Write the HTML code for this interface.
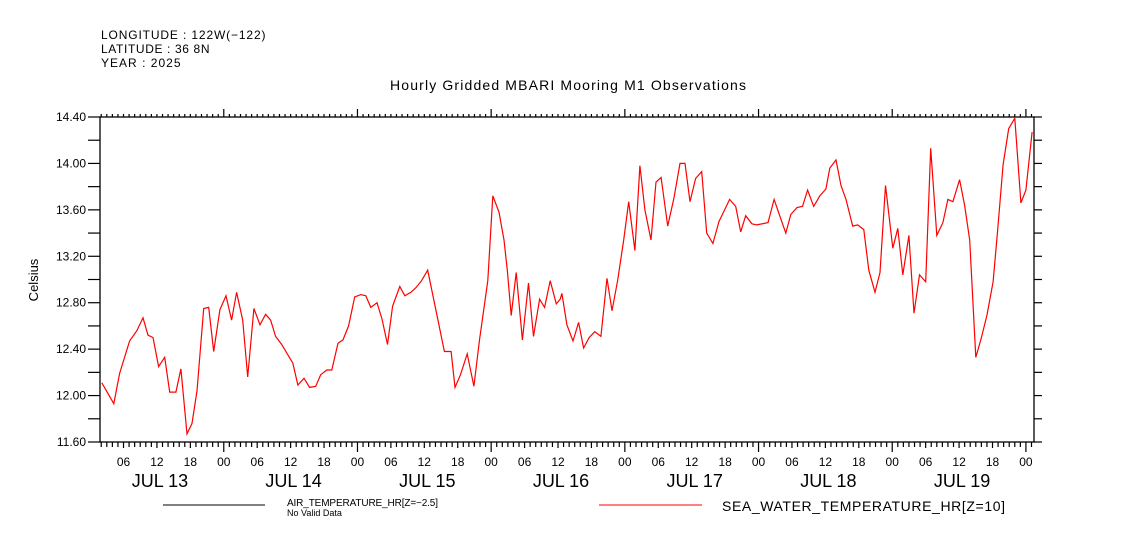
<!DOCTYPE html>
<html><head><meta charset="utf-8"><style>
html,body{margin:0;padding:0;background:#fff;}
svg{display:block;font-family:"Liberation Sans","DejaVu Sans",sans-serif;}
</style></head><body>
<svg id="chart" width="1121" height="560" viewBox="0 0 1121 560" xmlns="http://www.w3.org/2000/svg">
<g font-size="12" fill="#000" letter-spacing="0.5">
<text x="101" y="39" textLength="165">LONGITUDE : 122W(−122)</text>
<text x="101" y="53" textLength="109">LATITUDE : 36 8N</text>
<text x="101" y="67" textLength="80">YEAR : 2025</text>
</g>
<text x="390" y="90" font-size="14" textLength="356">Hourly Gridded MBARI Mooring M1 Observations</text>
<text x="38" y="280" font-size="13" text-anchor="middle" transform="rotate(-90 38 280)">Celsius</text>
<g id="axes"></g>
<g id="series"></g>
<g>
<line x1="163" y1="505" x2="265" y2="505" stroke="#000" stroke-width="1"/>
<text x="287" y="506" font-size="10" textLength="151">AIR_TEMPERATURE_HR[Z=−2.5]</text>
<text x="287" y="516" font-size="9">No Valid Data</text>
<line x1="599" y1="505" x2="702" y2="505" stroke="#f00" stroke-width="1"/>
<text x="722" y="511" font-size="14" textLength="283">SEA_WATER_TEMPERATURE_HR[Z=10]</text>
</g>
</svg>
<script>
// hours since JUL 13 00:00
const hours = [2.1,4.25,5.3,7.1,8.4,9.5,10.4,11.3,12.3,13.4,14.3,15.4,16.3,17.4,18.3,19.2,20.4,21.3,22.2,23.3,24.4,25.4,26.3,27.4,28.3,29.4,30.5,31.5,32.4,33.3,34.4,36.4,37.3,38.4,39.4,40.5,41.4,42.5,43.4,44.5,45.4,46.4,47.5,48.6,49.5,50.4,51.5,52.4,53.4,54.3,55.6,56.5,57.6,58.5,59.5,60.6,63.6,64.8,65.5,66.5,67.7,68.9,69.9,71.4,72.3,73.4,74.3,74.9,75.6,76.5,77.6,78.7,79.6,80.7,81.6,82.6,83.7,84.4,84.7,85.6,86.7,87.7,88.6,89.6,90.6,91.7,92.8,93.7,94.7,95.8,96.7,97.8,98.7,99.6,100.7,101.6,102.5,103.7,104.8,105.9,106.8,107.7,108.7,109.8,110.7,111.8,112.9,113.9,114.8,115.9,116.8,117.7,118.8,119.7,121.7,122.8,123.8,124.9,125.8,126.9,127.9,128.8,129.9,131.0,132.1,132.8,133.9,134.8,135.7,136.9,137.8,138.9,139.8,140.9,141.8,142.8,144.1,145.0,145.9,147.0,147.9,148.9,150.0,150.9,152.0,153.1,154.0,154.9,156.1,157.0,157.9,159.0,159.9,161.0,162.1,162.9,163.9,164.9,166.0,167.1,168.0,169.1];
const seaTemp = [12.11,11.93,12.19,12.47,12.56,12.67,12.52,12.50,12.25,12.33,12.03,12.03,12.23,11.67,11.76,12.04,12.75,12.76,12.38,12.74,12.86,12.65,12.89,12.65,12.16,12.75,12.61,12.70,12.65,12.51,12.44,12.28,12.09,12.15,12.07,12.08,12.18,12.22,12.22,12.45,12.48,12.60,12.85,12.87,12.86,12.76,12.80,12.66,12.44,12.77,12.94,12.86,12.89,12.93,12.99,13.08,12.38,12.38,12.07,12.18,12.36,12.08,12.48,12.99,13.72,13.58,13.34,13.08,12.69,13.06,12.48,12.97,12.51,12.83,12.76,12.99,12.79,12.83,12.88,12.61,12.47,12.63,12.41,12.50,12.55,12.51,13.01,12.73,12.99,13.34,13.67,13.25,13.98,13.60,13.34,13.84,13.88,13.46,13.70,14.00,14.00,13.67,13.87,13.93,13.40,13.31,13.50,13.60,13.69,13.63,13.41,13.55,13.48,13.47,13.49,13.69,13.55,13.40,13.56,13.62,13.63,13.77,13.63,13.72,13.78,13.96,14.03,13.81,13.69,13.46,13.47,13.43,13.08,12.89,13.06,13.81,13.27,13.44,13.04,13.38,12.71,13.04,12.98,14.13,13.38,13.49,13.69,13.67,13.86,13.64,13.34,12.33,12.48,12.69,12.98,13.41,13.99,14.30,14.39,13.66,13.77,14.27];
const yTickLabels = ["11.60","12.00","12.40","12.80","13.20","13.60","14.00","14.40"];
const dayLabels = ["JUL 13","JUL 14","JUL 15","JUL 16","JUL 17","JUL 18","JUL 19"];
const hourLabels = ["00","06","12","18"];

const L=100,R=1034,T=117,B=442;
const H0=1.78,H1=169.45;
const yMin=11.6,yMax=14.4;
const xs=h=>L+(h-H0)/(H1-H0)*(R-L);
const ys=v=>B-(v-yMin)/(yMax-yMin)*(B-T);
const NS="http://www.w3.org/2000/svg";
const axes=document.getElementById('axes');
function mk(tag,attrs,parent){const e=document.createElementNS(NS,tag);for(const k in attrs)e.setAttribute(k,attrs[k]);parent.appendChild(e);return e;}

const frame=mk('rect',{x:L,y:T,width:R-L,height:B-T,fill:'none',stroke:'#000','stroke-width':1.3},axes);



for(let i=0;i<=14;i++){
  const v=yMin+i*0.2, y=ys(v);
  const t1=mk('line',{x1:L-12,y1:y,x2:L,y2:y,stroke:'#000','stroke-width':1.2},axes);
  
  
  const t2=mk('line',{x1:R,y1:y,x2:R+8,y2:y,stroke:'#000','stroke-width':1.2},axes);
  
  
}
yTickLabels.forEach(s=>{
  const t=mk('text',{x:L-14,y:ys(parseFloat(s))+4,'font-size':12,'text-anchor':'end'},axes);
  t.textContent=s;
  
  
});
for(let h=Math.ceil(H0);h<=H1;h++){
  const x=xs(h), major=(h%24===0), six=(h%6===0);
  const lb=major?10:(six?6:5), lt=major?8:3;
  const a=mk('line',{x1:x,y1:B,x2:x,y2:B+lb,stroke:'#000','stroke-width':1.2},axes);
  
  
  const b=mk('line',{x1:x,y1:T-lt,x2:x,y2:T,stroke:'#000','stroke-width':1.2},axes);
  
  
  if(six){
    const t=mk('text',{x:x,y:B+24,'font-size':12,'text-anchor':'middle'},axes);
    t.textContent=hourLabels[(h%24)/6];
    
    
  }
}
dayLabels.forEach((d,i)=>{
  const t=mk('text',{x:xs(i*24+12)+3,y:487,'font-size':18,'text-anchor':'middle'},axes);
  t.textContent=d;
  
  
});
const pts=hours.map((h,i)=>xs(h).toFixed(1)+','+ys(seaTemp[i]).toFixed(1)).join(' ');
const line=mk('polyline',{points:pts,fill:'none',stroke:'#f00','stroke-width':1.2},document.getElementById('series'));


</script>
</body></html>
